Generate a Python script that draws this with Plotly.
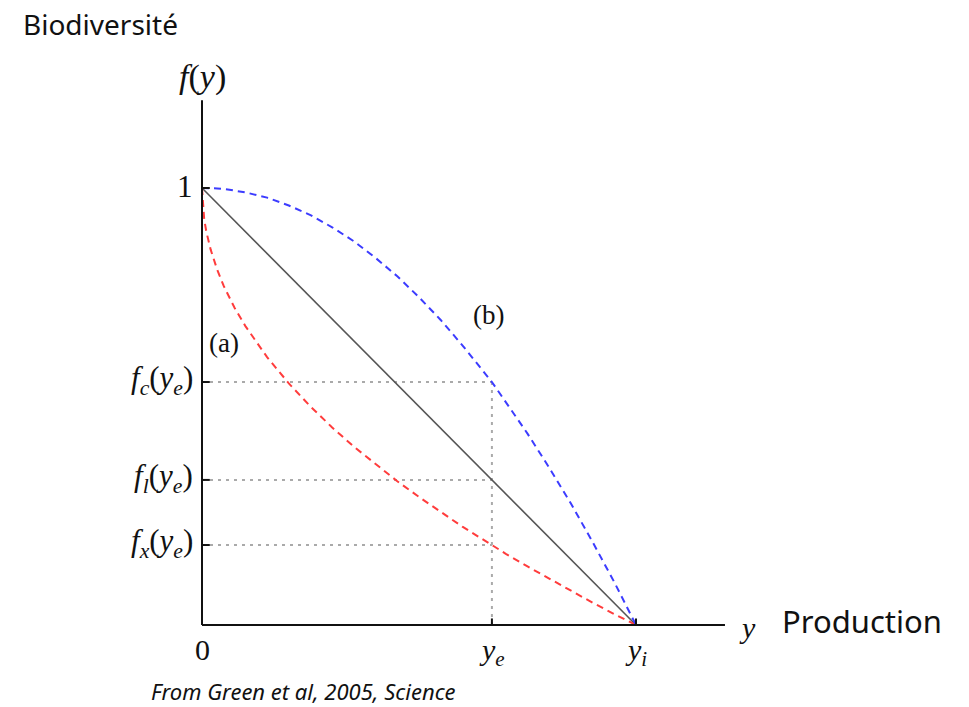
import plotly.graph_objects as go

# ---- data (x in units of y_i, f in units of f(0)) ----
curve_x = [0, 0.005, 0.01, 0.02, 0.035, 0.05, 0.075, 0.1, 0.15, 0.2, 0.25, 0.3, 0.35, 0.4,
           0.45, 0.5, 0.55, 0.6, 0.668, 0.7, 0.75, 0.8, 0.85, 0.9, 0.95, 1.0]
red_f = [1.0, 0.929, 0.900, 0.859, 0.813, 0.776, 0.726, 0.684, 0.613, 0.553, 0.500, 0.452,
         0.408, 0.368, 0.329, 0.293, 0.258, 0.225, 0.183, 0.163, 0.134, 0.106, 0.078,
         0.051, 0.025, 0.0]
blue_f = [1.0, 1.0, 1.0, 1.0, 0.999, 0.998, 0.994, 0.990, 0.978, 0.960, 0.938, 0.910,
          0.878, 0.840, 0.798, 0.750, 0.698, 0.640, 0.556, 0.510, 0.438, 0.360, 0.278,
          0.190, 0.098, 0.0]
line_x = [0, 1.0]
line_f = [1.0, 0.0]

ye = 0.668
x_tick_vals = [0, ye, 1.0]
x_tick_labels = ["0", "<i>y<sub>e</sub></i>", "<i>y<sub>i</sub></i>"]
y_tick_vals = [1.0, 0.556, 0.332, 0.183]
y_tick_labels = ["1", "<i>f<sub>c</sub></i>(<i>y<sub>e</sub></i>)",
                 "<i>f<sub>l</sub></i>(<i>y<sub>e</sub></i>)",
                 "<i>f<sub>x</sub></i>(<i>y<sub>e</sub></i>)"]
x_axis_end = 1.205
y_axis_end = 1.201

SERIF = "Liberation Serif"
SANS = "Noto Sans"
INK = "#111111"

fig = go.Figure()

# dotted guide lines
for v in y_tick_vals[1:]:
    fig.add_trace(go.Scatter(x=[0, ye], y=[v, v], mode="lines",
                             line=dict(color="#aaaaaa", width=2, dash="3px,5px"),
                             hoverinfo="skip", showlegend=False))
fig.add_trace(go.Scatter(x=[ye, ye], y=[0, y_tick_vals[1]], mode="lines",
                         line=dict(color="#aaaaaa", width=2, dash="3px,5px"),
                         hoverinfo="skip", showlegend=False))

# curves
fig.add_trace(go.Scatter(x=line_x, y=line_f, mode="lines",
                         line=dict(color="#555555", width=1.6), showlegend=False))
fig.add_trace(go.Scatter(x=curve_x, y=red_f, mode="lines",
                         line=dict(color="#ff3c3c", width=2, dash="7px,5px"),
                         showlegend=False))
fig.add_trace(go.Scatter(x=curve_x, y=blue_f, mode="lines",
                         line=dict(color="#3c3cff", width=2, dash="7px,5px"),
                         showlegend=False))

# axes lines
fig.add_trace(go.Scatter(x=[0, 0], y=[0, y_axis_end], mode="lines",
                         line=dict(color=INK, width=2), showlegend=False))
fig.add_trace(go.Scatter(x=[0, x_axis_end], y=[0, 0], mode="lines",
                         line=dict(color=INK, width=2), showlegend=False))

# tick marks
for v in y_tick_vals:
    fig.add_trace(go.Scatter(x=[0, 0.018], y=[v, v], mode="lines",
                             line=dict(color=INK, width=2), showlegend=False))
for v in x_tick_vals[1:]:
    fig.add_trace(go.Scatter(x=[v, v], y=[0, 0.015], mode="lines",
                             line=dict(color=INK, width=2), showlegend=False))

ann = []
for v, t in zip(y_tick_vals, y_tick_labels):
    ann.append(dict(x=0, y=v, text=t, xanchor="right", yanchor="middle",
                    xshift=-7, yshift=2, showarrow=False,
                    font=dict(family=SERIF, size=31, color=INK)))
for v, t in zip(x_tick_vals, x_tick_labels):
    ann.append(dict(x=v, y=0, text=t, xanchor="center", yanchor="top",
                    yshift=-6, showarrow=False,
                    font=dict(family=SERIF, size=30, color=INK)))
ann += [
    dict(x=0, y=y_axis_end, text="<i>f</i>(<i>y</i>)", xanchor="center", yanchor="bottom",
         yshift=2, showarrow=False, font=dict(family=SERIF, size=34, color=INK)),
    dict(x=x_axis_end, y=0, text="<i>y</i>", xanchor="left", yanchor="middle",
         xshift=12, yshift=-2, showarrow=False, font=dict(family=SERIF, size=30, color=INK)),
    dict(x=0.012, y=0.645, text="(a)", xanchor="left", yanchor="middle", showarrow=False,
         font=dict(family=SERIF, size=27, color=INK)),
    dict(x=0.62, y=0.71, text="(b)", xanchor="left", yanchor="middle", showarrow=False,
         font=dict(family=SERIF, size=27, color=INK)),
    dict(x=x_axis_end, y=0, text="Production", xanchor="left", yanchor="middle",
         xshift=55, yshift=4, showarrow=False, font=dict(family=SANS, size=31, color=INK)),
    dict(x=0, y=y_axis_end, text="Biodiversité", xanchor="left", yanchor="middle",
         xshift=-181, yshift=76, showarrow=False, font=dict(family=SANS, size=28, color=INK)),
    dict(x=0, y=0, text="<i>From Green et al, 2005, Science</i>", xanchor="left", yanchor="middle",
         xshift=-53, yshift=-66, showarrow=False, font=dict(family=SANS, size=22, color=INK)),
]

# page body margin is removed, so x=0 lands at px 202 and y=0 at px 625
fig.update_layout(
    width=969, height=707,
    margin=dict(l=0, r=0, t=0, b=0),
    paper_bgcolor="white", plot_bgcolor="white",
    xaxis=dict(range=[-202 / 434, 767 / 434], visible=False, fixedrange=True),
    yaxis=dict(range=[-82 / 437, 625 / 437], visible=False, fixedrange=True),
    annotations=ann,
    showlegend=False,
)

fig.write_html("out.html", config={"displayModeBar": False, "staticPlot": True},
               post_script="document.body.style.margin='0';document.body.style.overflow='hidden';")
